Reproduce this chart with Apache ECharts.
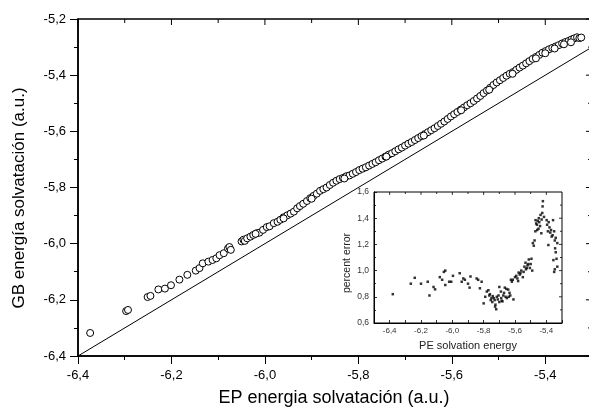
<!DOCTYPE html>
<html>
<head>
<meta charset="utf-8">
<script src="https://cdn.jsdelivr.net/npm/echarts@6/dist/echarts.min.js"></script>
<style>
html,body{margin:0;padding:0;background:#fff;}
#chart{width:589px;height:408px;background:#fff;}
</style>
</head>
<body>
<div id="chart"></div>
<script>
// Main plot: EP vs GB solvation energies (a.u.)
var epEnergy = [
-6.374,-6.297,-6.293,-6.251,-6.245,-6.228,-6.214,-6.201,-6.183,-6.166,
-6.148,-6.140,-6.133,-6.121,-6.112,-6.104,-6.097,-6.088,-6.079,-6.076,
-6.073,-6.050,-6.046,-6.043,-6.038,-6.031,-6.025,-6.018,-6.012,-6.004,
-5.996,-5.990,-5.981,-5.973,-5.967,-5.960,-5.952,-5.945,-5.938,-5.931,
-5.925,-5.918,-5.910,-5.903,-5.896,-5.889,-5.882,-5.875,-5.868,-5.861,
-5.854,-5.847,-5.840,-5.833,-5.826,-5.819,-5.812,-5.805,-5.798,-5.791,
-5.784,-5.777,-5.770,-5.763,-5.756,-5.749,-5.742,-5.735,-5.728,-5.721,
-5.714,-5.707,-5.700,-5.693,-5.686,-5.679,-5.672,-5.665,-5.658,-5.651,
-5.644,-5.637,-5.630,-5.623,-5.616,-5.609,-5.602,-5.595,-5.588,-5.581,
-5.574,-5.567,-5.560,-5.553,-5.546,-5.539,-5.532,-5.525,-5.518,-5.511,
-5.504,-5.497,-5.490,-5.483,-5.476,-5.469,-5.462,-5.455,-5.448,-5.441,
-5.434,-5.427,-5.420,-5.413,-5.406,-5.399,-5.392,-5.385,-5.378,-5.371,
-5.364,-5.357,-5.350,-5.344,-5.338,-5.332,-5.327,-5.323,
-5.400,-5.380,-5.360,-5.345,-5.420,-5.470,-5.520,-5.580,-5.660,-5.740,
-5.830,-5.900,-5.960,-6.020
];
var gbEnergy = [
-6.318,-6.240,-6.236,-6.190,-6.186,-6.163,-6.160,-6.148,-6.128,-6.111,
-6.096,-6.087,-6.070,-6.064,-6.058,-6.052,-6.041,-6.034,-6.017,-6.012,
-6.022,-5.992,-5.986,-5.990,-5.981,-5.975,-5.969,-5.963,-5.961,-5.951,
-5.941,-5.938,-5.927,-5.922,-5.915,-5.906,-5.899,-5.893,-5.886,-5.874,
-5.866,-5.858,-5.848,-5.838,-5.830,-5.822,-5.812,-5.806,-5.800,-5.791,
-5.783,-5.776,-5.770,-5.766,-5.760,-5.757,-5.751,-5.745,-5.738,-5.733,
-5.728,-5.722,-5.716,-5.710,-5.703,-5.697,-5.690,-5.683,-5.678,-5.671,
-5.664,-5.658,-5.651,-5.644,-5.638,-5.631,-5.624,-5.617,-5.610,-5.603,
-5.596,-5.589,-5.581,-5.573,-5.565,-5.556,-5.547,-5.539,-5.531,-5.523,
-5.515,-5.507,-5.500,-5.492,-5.483,-5.474,-5.464,-5.455,-5.445,-5.435,
-5.426,-5.418,-5.410,-5.402,-5.395,-5.389,-5.381,-5.373,-5.366,-5.358,
-5.350,-5.342,-5.335,-5.328,-5.320,-5.314,-5.308,-5.303,-5.298,-5.293,
-5.287,-5.282,-5.278,-5.273,-5.269,-5.265,-5.268,-5.266,
-5.322,-5.305,-5.290,-5.283,-5.340,-5.395,-5.452,-5.525,-5.615,-5.690,
-5.768,-5.840,-5.910,-5.965
];
var identityLine = [[-6.4, -6.4], [-5.3, -5.3]];

// Inset: PE solvation energy vs percent error
var peEnergy = [
-6.38,-6.265,-6.24,-6.20,-6.157,-6.146,-6.12,-6.11,-6.08,-6.065,
-6.054,-6.045,-6.045,-6.02,-6.007,-5.996,-5.953,-5.94,-5.93,-5.92,
-5.90,-5.89,-5.884,-5.845,-5.835,-5.824,-5.813,-5.80,-5.79,-5.78,
-5.77,-5.764,-5.755,-5.742,-5.73,-5.727,-5.72,-5.716,-5.705,-5.70,
-5.69,-5.688,-5.68,-5.67,-5.665,-5.66,-5.652,-5.643,-5.635,-5.63,
-5.626,-5.62,-5.614,-5.61,-5.70,-5.71,-5.675,-5.745,-5.76,-5.735,
-5.592,-5.585,-5.577,-5.57,-5.56,-5.55,-5.54,-5.533,-5.53,-5.52,
-5.512,-5.505,-5.50,-5.495,-5.49,-5.486,-5.48,-5.475,-5.469,-5.46,
-5.458,-5.455,-5.448,-5.44,-5.437,-5.432,-5.426,-5.424,-5.422,-5.415,
-5.398,-5.395,-5.39,-5.387,-5.385,-5.38,-5.375,-5.37,-5.366,-5.357,
-5.35,-5.346,-5.344,-5.34,-5.355,-5.35,-5.346,-5.335,-5.33,-5.33,
-5.34,-5.36,-5.465,-5.45,-5.445,-5.43,-5.47,-5.60,-5.58,-5.565,
-5.545,-5.525,-5.515,-5.655,-5.64,-5.685,-5.725,-5.75
];
var percentError = [
0.82,0.90,0.945,0.90,0.915,0.81,0.875,0.857,0.95,0.93,
0.99,1.00,0.89,0.915,0.915,0.96,0.98,0.915,0.94,0.93,
0.90,0.87,0.955,0.94,0.93,0.865,0.915,0.75,0.80,0.84,
0.85,0.81,0.775,0.805,0.775,0.725,0.705,0.80,0.81,0.875,
0.84,0.79,0.765,0.83,0.87,0.80,0.79,0.855,0.83,0.81,
0.93,0.915,0.93,0.78,0.76,0.78,0.81,0.76,0.82,0.79,
0.96,0.94,0.985,0.97,1.00,0.95,1.03,1.06,1.01,1.04,
1.085,1.02,1.05,1.09,1.00,1.21,1.19,1.23,1.385,1.35,
1.31,1.38,1.40,1.34,1.425,1.285,1.44,1.49,1.53,1.41,
1.385,1.35,1.30,1.195,1.37,1.33,1.29,1.31,1.26,1.385,
1.30,1.23,1.17,1.14,1.08,0.99,1.01,1.09,1.21,1.03,
1.25,1.27,1.36,1.32,1.37,1.39,1.30,0.95,0.92,0.98,
0.99,1.02,1.05,0.86,0.80,0.77,0.74,0.79
];

// Tick values for the mirrored (top / right) edges
var mainTopTicks = [-6.4,-6.3,-6.2,-6.1,-6.0,-5.9,-5.8,-5.7,-5.6,-5.5,-5.4];
var mainRightTicks = [-6.4,-6.3,-6.2,-6.1,-6.0,-5.9,-5.8,-5.7,-5.6,-5.5,-5.4,-5.3,-5.2];
var insetTopTicks = [-6.4,-6.3,-6.2,-6.1,-6.0,-5.9,-5.8,-5.7,-5.6,-5.5,-5.4];
var insetRightTicks = [0.7,0.8,0.9,1.0,1.1,1.2,1.3,1.4,1.5];

var mainXTitle = 'EP energia solvatación (a.u.)';
var mainYTitle = 'GB energía solvatación (a.u.)';
var insetXTitle = 'PE solvation energy';
var insetYTitle = 'percent error';

var mainPoints = epEnergy.map(function (v, i) { return [v, gbEnergy[i]]; });
var insetPoints = peEnergy.map(function (v, i) { return [v, percentError[i]]; });

function comma(v) { return (Math.round(v * 10) / 10).toFixed(1).replace('.', ','); }
function evenComma(v) {
  var k = Math.round(v * 10);
  return (k % 2 === 0) ? comma(v) : '';
}
function isMajor(v) { return Math.round(v * 10) % 2 === 0; }

var FONT = 'Liberation Sans, Arial, sans-serif';

function axis(o) {
  var a = {
    type: 'value', gridIndex: o.grid, position: o.pos, min: o.min, max: o.max, interval: o.interval,
    axisLine: { show: true, onZero: false, lineStyle: { color: '#000', width: o.lineWidth } },
    axisTick: { show: true, inside: o.inside, length: o.tickLen, lineStyle: { color: '#000', width: o.tickWidth } },
    axisLabel: { show: true, color: o.labelColor || '#000', fontSize: o.fontSize, margin: o.margin,
                 formatter: o.formatter || comma, fontFamily: FONT },
    splitLine: { show: false }
  };
  if (o.showMax === false) { a.axisLabel.showMaxLabel = false; }
  if (o.minorLen) {
    a.minorTick = { show: true, splitNumber: 2, length: o.minorLen, lineStyle: { color: '#000', width: o.tickWidth } };
  }
  return a;
}

// Edge ticks drawn through the axes' own scales (api.coord)
function edgeTickSeries(xIdx, yIdx, topVals, rightVals, xMax, yMax, majorLen, minorLen, width, rightMajor) {
  var data = [];
  topVals.forEach(function (v) { data.push([v, yMax, 0]); });
  rightVals.forEach(function (v) { data.push([xMax, v, 1]); });
  return {
    type: 'custom', xAxisIndex: xIdx, yAxisIndex: yIdx, data: data, silent: true, clip: false, z: 5,
    renderItem: function (params, api) {
      var xv = api.value(0), yv = api.value(1), side = api.value(2);
      var p = api.coord([xv, yv]);
      var len;
      if (side === 0) {
        len = isMajor(xv) ? majorLen : minorLen;
        return { type: 'line', shape: { x1: p[0], y1: p[1], x2: p[0], y2: p[1] + len },
                 style: { stroke: '#000', lineWidth: width } };
      }
      len = rightMajor(yv) ? majorLen : minorLen;
      return { type: 'line', shape: { x1: p[0], y1: p[1], x2: p[0] - len, y2: p[1] },
               style: { stroke: '#000', lineWidth: width } };
    }
  };
}

var chart = echarts.init(document.getElementById('chart'));
chart.setOption({
  animation: false,
  grid: [
    { left: 78, top: 19, width: 514, height: 337, outerBoundsMode: 'none',
      show: true, backgroundColor: 'transparent', borderColor: '#000', borderWidth: 1.5 },
    { left: 374, top: 192, width: 188, height: 131, outerBoundsMode: 'none',
      show: true, backgroundColor: 'transparent', borderColor: '#000', borderWidth: 1 }
  ],
  xAxis: [
    axis({ grid: 0, pos: 'bottom', min: -6.4, max: -5.3, interval: 0.2, lineWidth: 1.5, inside: false,
           tickLen: 8, minorLen: 4, tickWidth: 1, fontSize: 13, margin: 13, showMax: false }),
    axis({ grid: 1, pos: 'bottom', min: -6.5, max: -5.3, interval: 0.1, lineWidth: 1, inside: true,
           tickLen: 3, tickWidth: 0.8, fontSize: 8, margin: 4, labelColor: '#333', formatter: evenComma })
  ],
  yAxis: [
    axis({ grid: 0, pos: 'left', min: -6.4, max: -5.2, interval: 0.2, lineWidth: 1.5, inside: false,
           tickLen: 8, minorLen: 4, tickWidth: 1, fontSize: 13, margin: 12 }),
    axis({ grid: 1, pos: 'left', min: 0.6, max: 1.6, interval: 0.2, lineWidth: 1, inside: true,
           tickLen: 3, minorLen: 2, tickWidth: 0.8, fontSize: 8.5, margin: 5, labelColor: '#333' })
  ],
  graphic: [
    { type: 'text', x: 334, y: 398, z: 10,
      style: { text: mainXTitle, fill: '#000', font: '18px ' + FONT, align: 'center', verticalAlign: 'middle' } },
    { type: 'text', x: 19, y: 198, rotation: Math.PI / 2, z: 10,
      style: { text: mainYTitle, fill: '#000', font: '17px ' + FONT, align: 'center', verticalAlign: 'middle' } },
    { type: 'text', x: 468, y: 346, z: 10,
      style: { text: insetXTitle, fill: '#222', font: '11px ' + FONT, align: 'center', verticalAlign: 'middle' } },
    { type: 'text', x: 347, y: 263, rotation: Math.PI / 2, z: 10,
      style: { text: insetYTitle, fill: '#222', font: '10.5px ' + FONT, align: 'center', verticalAlign: 'middle' } }
  ],
  series: [
    { type: 'line', xAxisIndex: 0, yAxisIndex: 0, data: identityLine, showSymbol: false, symbol: 'none',
      lineStyle: { color: '#000', width: 1 } },
    { type: 'scatter', xAxisIndex: 0, yAxisIndex: 0, data: mainPoints, symbol: 'circle', symbolSize: 7,
      itemStyle: { color: '#fff', borderColor: '#000', borderWidth: 1, opacity: 1 } },
    { type: 'scatter', xAxisIndex: 1, yAxisIndex: 1, data: insetPoints, symbol: 'rect', symbolSize: 2.5,
      itemStyle: { color: '#000' } },
    edgeTickSeries(0, 0, mainTopTicks, mainRightTicks, -5.3, -5.2, 6, 4, 1, isMajor),
    edgeTickSeries(1, 1, insetTopTicks, insetRightTicks, -5.3, 1.6, 3, 2, 0.8, isMajor)
  ]
});
</script>
</body>
</html>
